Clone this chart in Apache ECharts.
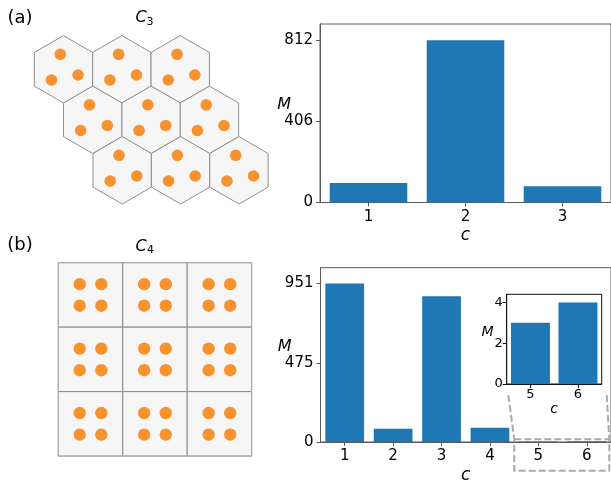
<!DOCTYPE html>
<html><head><meta charset="utf-8">
<script src="https://cdn.jsdelivr.net/npm/echarts@6/dist/echarts.min.js"></script>
<style>html,body{margin:0;padding:0;background:#fff}#c{width:611px;height:485px}</style>
</head><body><div id="c"></div>
<script>
// ---- data ----
const catsA = ['1', '2', '3'];
const valsA = [97, 812, 81];
const ticksA = [0, 406, 812];
const catsB = ['1', '2', '3', '4', '5', '6'];
const valsB = [951, 80, 875, 86, 3, 4];
const ticksB = [0, 475, 951];
const catsInset = ['5', '6'];
const valsInset = [3, 4];
const ticksInset = [0, 2, 4];
const yName = 'M';
const xName = 'c';

// ---- styling ----
const BLUE = '#1f77b4';
const ORANGE = '#f7922f';
const FONT = '"DejaVu Sans", sans-serif';
const SPINE = '#5a5a5a';

function valAxis(gridIndex, ticks, vals, opts) {
  opts = opts || {};
  const fs = opts.fs || 15;
  return {
    type: 'value', gridIndex: gridIndex, min: 0, max: Math.max.apply(null, vals) * 1.1,
    name: yName, nameLocation: 'middle', nameRotate: 0, nameGap: opts.nameGap || 29,
    nameMoveOverlap: false,
    nameTextStyle: { fontFamily: FONT, fontStyle: 'italic', fontSize: opts.nfs || 16, color: '#000',
      verticalAlign: 'bottom', padding: [0, 0, opts.npad || 0, 0] },
    axisLine: { show: true, lineStyle: { color: opts.color || SPINE, width: 1 } },
    axisTick: { show: true, inside: false, length: 4, customValues: ticks, lineStyle: { color: opts.color || SPINE } },
    axisLabel: { customValues: ticks, fontFamily: FONT, fontSize: fs, color: '#000', margin: opts.margin || 7 },
    splitLine: { show: false }
  };
}
function catAxis(gridIndex, cats, opts) {
  opts = opts || {};
  return {
    type: 'category', gridIndex: gridIndex, data: cats, boundaryGap: true,
    name: xName, nameLocation: 'middle', nameGap: opts.nameGap || 25,
    nameMoveOverlap: false,
    nameTextStyle: { fontFamily: FONT, fontStyle: 'italic', fontSize: opts.nfs || 17, color: '#000' },
    axisLine: { show: true, lineStyle: { color: opts.color || SPINE, width: 1 } },
    axisTick: { show: true, alignWithLabel: true, inside: false, length: 4, lineStyle: { color: opts.color || SPINE } },
    axisLabel: { fontFamily: FONT, fontSize: opts.fs || 15, color: '#000', margin: opts.margin || 7 },
    splitLine: { show: false }
  };
}

// ---- illustrations (lattice cartoons) ----
const graphics = [];
const R = 33.7, W = Math.sqrt(3) * R;
const hexRows = [{ y: 69.3, x0: 63.5 }, { y: 119.8, x0: 92.7 }, { y: 170.3, x0: 122.2 }];
const triOff = [[-3.2, -15], [-12, 10.7], [14.6, 5.7]];
hexRows.forEach(function (r) {
  for (let i = 0; i < 3; i++) {
    const cx = r.x0 + i * W, cy = r.y;
    const pts = [];
    for (let k = 0; k < 6; k++) {
      const a = (-90 + 60 * k) * Math.PI / 180;
      pts.push([cx + R * Math.cos(a), cy + R * Math.sin(a)]);
    }
    graphics.push({ type: 'polygon', shape: { points: pts }, style: { fill: '#f6f6f6', stroke: '#8f8f8f', lineWidth: 1 }, z: 1 });
    triOff.forEach(function (o) {
      graphics.push({ type: 'circle', shape: { cx: cx + o[0], cy: cy + o[1], r: 5.8 }, style: { fill: ORANGE }, z: 2 });
    });
  }
});
const sqX0 = 58.3, sqY0 = 262.7, S = 64.45, d = 10.8;
for (let i = 0; i < 3; i++) {
  for (let j = 0; j < 3; j++) {
    const x = sqX0 + j * S, y = sqY0 + i * S;
    graphics.push({ type: 'rect', shape: { x: x, y: y, width: S, height: S }, style: { fill: '#f6f6f6', stroke: '#8a8a8a', lineWidth: 1 }, z: 1 });
    const cx = x + S / 2, cy = y + S / 2;
    [[-d, -d], [d, -d], [-d, d], [d, d]].forEach(function (o) {
      graphics.push({ type: 'circle', shape: { cx: cx + o[0], cy: cy + o[1], r: 6.2 }, style: { fill: ORANGE }, z: 2 });
    });
  }
}
graphics.push({ type: 'rect', shape: { x: sqX0, y: sqY0, width: 3 * S, height: 3 * S }, style: { fill: 'none', stroke: '#b0b0b0', lineWidth: 1 }, z: 3 });

// panel labels and lattice titles
function txt(t, x, y, font, extra) {
  const s = { text: t, x: x, y: y, font: font, fill: '#000', align: 'center', verticalAlign: 'middle' };
  return Object.assign({ type: 'text', style: s, z: 5 }, extra || {});
}
graphics.push(txt('(a)', 20, 18, '18px ' + FONT));
graphics.push(txt('(b)', 20, 245, '18px ' + FONT));
graphics.push(txt('C', 141, 18, 'italic 16px ' + FONT));
graphics.push(txt('3', 150, 22, '11px ' + FONT));
graphics.push(txt('C', 141, 246.5, 'italic 16px ' + FONT));
graphics.push(txt('4', 150.5, 250.5, '11px ' + FONT));

// inset zoom indicator
const dash = { fill: 'none', stroke: '#aaa', lineWidth: 2, lineDash: [7, 3] };
graphics.push({ type: 'rect', shape: { x: 514.3, y: 439.3, width: 95, height: 31.4 }, style: dash, z: 10 });
graphics.push({ type: 'line', shape: { x1: 508.3, y1: 395, x2: 514.3, y2: 439.3 }, style: dash, z: 10 });
graphics.push({ type: 'line', shape: { x1: 606.7, y1: 395, x2: 609.3, y2: 439.3 }, style: dash, z: 10 });

const chart = echarts.init(document.getElementById('c'), null, { renderer: 'canvas' });
chart.setOption({
  animation: false,
  backgroundColor: '#fff',
  grid: [
    { left: 320, top: 24, width: 291, height: 178.5, show: true, borderColor: SPINE, borderWidth: 1, backgroundColor: 'transparent', containLabel: false },
    { left: 320.5, top: 267.7, width: 292, height: 179.3, show: true, borderColor: SPINE, borderWidth: 1, backgroundColor: 'transparent', containLabel: false },
    { left: 506.7, top: 294.3, width: 95, height: 89.7, show: true, borderColor: '#111', borderWidth: 1, backgroundColor: '#fff', containLabel: false, z: 5 }
  ],
  xAxis: [
    catAxis(0, catsA, {}),
    catAxis(1, catsB, {}),
    Object.assign(catAxis(2, catsInset, { fs: 13, nfs: 14, nameGap: 18, margin: 4, color: '#111' }), { z: 6 })
  ],
  yAxis: [
    valAxis(0, ticksA, valsA, { nameGap: 29, npad: 0 }),
    valAxis(1, ticksB, valsB, { nameGap: 29, npad: 0 }),
    Object.assign(valAxis(2, ticksInset, valsInset, { fs: 13, nfs: 14, nameGap: 13, margin: 4, npad: 0, color: '#111' }), { z: 6 })
  ],
  series: [
    { type: 'bar', xAxisIndex: 0, yAxisIndex: 0, data: valsA, barWidth: '80%', itemStyle: { color: BLUE } },
    { type: 'bar', xAxisIndex: 1, yAxisIndex: 1, data: valsB, barWidth: '80%', itemStyle: { color: BLUE } },
    { type: 'bar', xAxisIndex: 2, yAxisIndex: 2, data: valsInset, barWidth: '82%', itemStyle: { color: BLUE }, z: 7 }
  ],
  graphic: graphics
});
</script>
</body></html>
